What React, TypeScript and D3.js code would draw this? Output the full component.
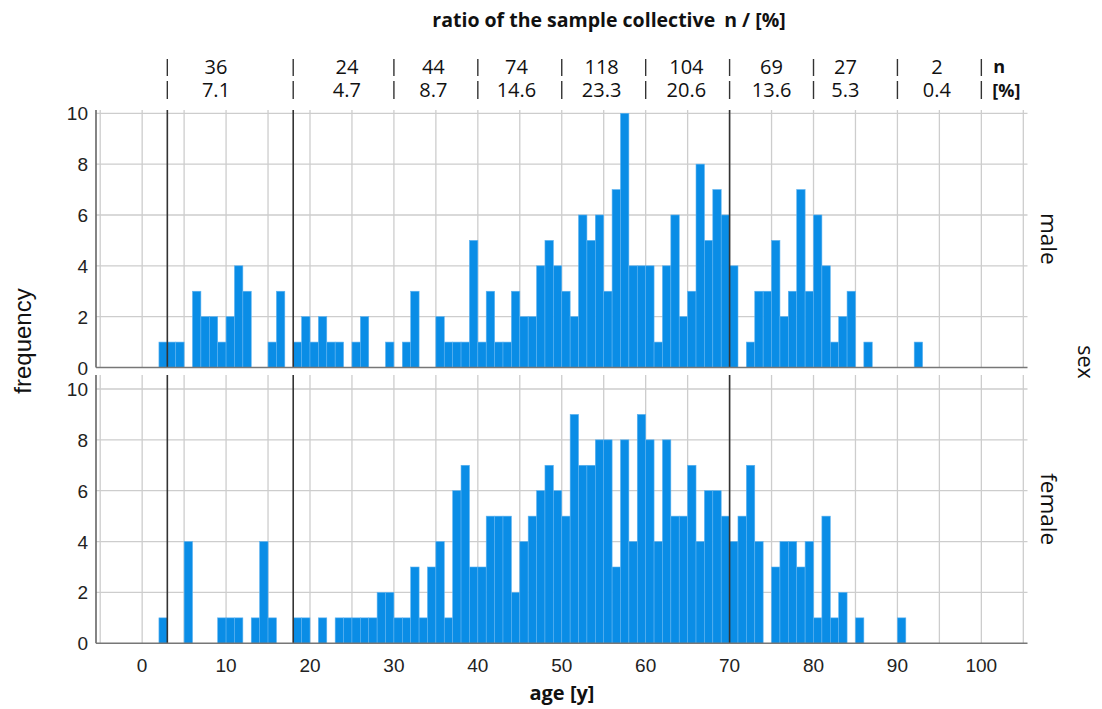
import React from "react";
import * as d3 from "d3";

// ---------- data ----------
const maleBins: [number, number][] = [
  [2, 1], [3, 1], [4, 1], [6, 3], [7, 2], [8, 2], [9, 1], [10, 2], [11, 4], [12, 3], [15, 1], [16, 3],
  [18, 1], [19, 2], [20, 1], [21, 2], [22, 1], [23, 1], [25, 1], [26, 2], [29, 1],
  [31, 1], [32, 3], [35, 2], [36, 1], [37, 1], [38, 1], [39, 5],
  [40, 1], [41, 3], [42, 1], [43, 1], [44, 3], [45, 2], [46, 2], [47, 4], [48, 5], [49, 4],
  [50, 3], [51, 2], [52, 6], [53, 5], [54, 6], [55, 3], [56, 7], [57, 10], [58, 4], [59, 4],
  [60, 4], [61, 1], [62, 4], [63, 6], [64, 2], [65, 3], [66, 8], [67, 5], [68, 7], [69, 6],
  [70, 4], [72, 1], [73, 3], [74, 3], [75, 5], [76, 2], [77, 3], [78, 7], [79, 3],
  [80, 6], [81, 4], [82, 1], [83, 2], [84, 3], [86, 1], [92, 1],
];

const femaleBins: [number, number][] = [
  [2, 1], [5, 4], [9, 1], [10, 1], [11, 1], [13, 1], [14, 4], [15, 1],
  [18, 1], [19, 1], [21, 1], [23, 1], [24, 1], [25, 1], [26, 1], [27, 1], [28, 2], [29, 2],
  [30, 1], [31, 1], [32, 3], [33, 1], [34, 3], [35, 4], [36, 1], [37, 6], [38, 7], [39, 3],
  [40, 3], [41, 5], [42, 5], [43, 5], [44, 2], [45, 4], [46, 5], [47, 6], [48, 7], [49, 6],
  [50, 5], [51, 9], [52, 7], [53, 7], [54, 8], [55, 8], [56, 3], [57, 8], [58, 4], [59, 9],
  [60, 8], [61, 4], [62, 8], [63, 5], [64, 5], [65, 7], [66, 4], [67, 6], [68, 6], [69, 5],
  [70, 4], [71, 5], [72, 7], [73, 4], [75, 3], [76, 4], [77, 4], [78, 3], [79, 4],
  [80, 1], [81, 5], [82, 1], [83, 2], [85, 1], [90, 1],
];

const groupEdges = [3, 18, 30, 40, 50, 60, 70, 80, 90, 100];
const groupN = ["36", "24", "44", "74", "118", "104", "69", "27", "2"];
const groupPct = ["7.1", "4.7", "8.7", "14.6", "23.3", "20.6", "13.6", "5.3", "0.4"];
const splitAges = [3, 18, 70];
const xTicks = [0, 10, 20, 30, 40, 50, 60, 70, 80, 90, 100];
const yTicks = [0, 2, 4, 6, 8, 10];

// ---------- layout ----------
const W = 1102;
const H = 709;
const x = d3.scaleLinear().domain([-5.5, 105.5]).range([96, 1027.5]);
const panels = [
  { key: "male", bins: maleBins, y: d3.scaleLinear().domain([0, 10.13]).range([367.5, 110]) },
  { key: "female", bins: femaleBins, y: d3.scaleLinear().domain([0, 10.55]).range([643.3, 375]) },
];
const vGrid = d3.range(-5, 106, 5);
const labelNudge = [-1.7, 0.4, -0.3, -0.4, -0.25, -0.15, 0, -1.2, -0.3];

const sans = "'Open Sans', 'Noto Sans', sans-serif";
const arial = "'Liberation Sans', Arial, sans-serif";
const BAR = "#0a8de6";

export default function App() {
  return (
    <svg width={W} height={H} style={{ position: "absolute", left: 0, top: 0, background: "#fff" }}>
      {/* title */}
      <text x={609} y={27} textAnchor="middle" fontFamily={sans} fontWeight="bold" fontSize={19.5} fill="#111">
        ratio of the sample collective<tspan dx={9}>n / [%]</tspan>
      </text>

      {/* group separators and labels */}
      {groupEdges.map((a, i) => (
        <g key={"sep" + i}>
          <line x1={x(a)} x2={x(a)} y1={59} y2={76} stroke="#333" strokeWidth={1.4} />
          <line x1={x(a)} x2={x(a)} y1={81} y2={99} stroke="#333" strokeWidth={1.4} />
        </g>
      ))}
      {groupN.map((n, i) => {
        const cx = x((groupEdges[i] + groupEdges[i + 1]) / 2 + labelNudge[i]);
        return (
          <g key={"gl" + i} fontFamily={sans} fontSize={20} fill="#111" textAnchor="middle">
            <text x={cx} y={74}>{n}</text>
            <text x={cx} y={97}>{groupPct[i]}</text>
          </g>
        );
      })}
      <text x={x(100) + 12} y={73} fontFamily={sans} fontWeight="bold" fontSize={18} fill="#111">n</text>
      <text x={x(100) + 11} y={97} fontFamily={sans} fontWeight="bold" fontSize={18} fill="#111">[%]</text>

      {panels.map((p) => {
        const [y0, y1] = p.y.range();
        return (
          <g key={p.key}>
            {vGrid.map((v) => (
              <line key={"vg" + v} x1={x(v)} x2={x(v)} y1={y1} y2={y0} stroke="#cdcdcd" strokeWidth={1.3} />
            ))}
            {yTicks.filter((t) => t > 0).map((t) => (
              <line key={"hg" + t} x1={x.range()[0]} x2={x.range()[1]} y1={p.y(t)} y2={p.y(t)} stroke="#cdcdcd" strokeWidth={1.3} />
            ))}
            {p.bins.map(([a, c]) => (
              <rect
                key={"b" + a}
                x={x(a)}
                y={p.y(c)}
                width={x(a + 1) - x(a)}
                height={p.y(0) - p.y(c)}
                fill={BAR}
                stroke="#5cb2f0"
                strokeWidth={0.6}
              />
            ))}
            {splitAges.map((a) => (
              <line key={"s" + a} x1={x(a)} x2={x(a)} y1={y1} y2={y0} stroke="#333" strokeWidth={1.6} />
            ))}
            <line x1={x.range()[0]} x2={x.range()[0]} y1={y1} y2={y0} stroke="#666" strokeWidth={1.6} />
            <line x1={x.range()[0]} x2={x.range()[1]} y1={y0} y2={y0} stroke="#777" strokeWidth={1.6} />
            {yTicks.map((t) => (
              <text key={"yt" + t} x={88} y={p.y(t) + 7} textAnchor="end" fontFamily={arial} fontSize={19} fill="#222">
                {t}
              </text>
            ))}
            <text
              transform={`translate(1041, ${(y0 + y1) / 2}) rotate(90)`}
              textAnchor="middle"
              fontFamily={sans}
              fontSize={22.5}
              fill="#111"
            >
              {p.key}
            </text>
          </g>
        );
      })}

      {xTicks.map((t) => (
        <text key={"xt" + t} x={x(t)} y={672} textAnchor="middle" fontFamily={arial} fontSize={19} fill="#222">
          {t}
        </text>
      ))}

      <text x={562} y={700} textAnchor="middle" fontFamily={sans} fontWeight="bold" fontSize={20} fill="#111">
        age [y]
      </text>
      <text
        transform={`translate(31, 341) rotate(-90)`}
        textAnchor="middle"
        fontFamily={arial}
        fontSize={24}
        fill="#111"
      >
        frequency
      </text>
      <text
        transform={`translate(1078, 362) rotate(90)`}
        textAnchor="middle"
        fontFamily={sans}
        fontSize={21.5}
        fill="#111"
      >
        sex
      </text>
    </svg>
  );
}
